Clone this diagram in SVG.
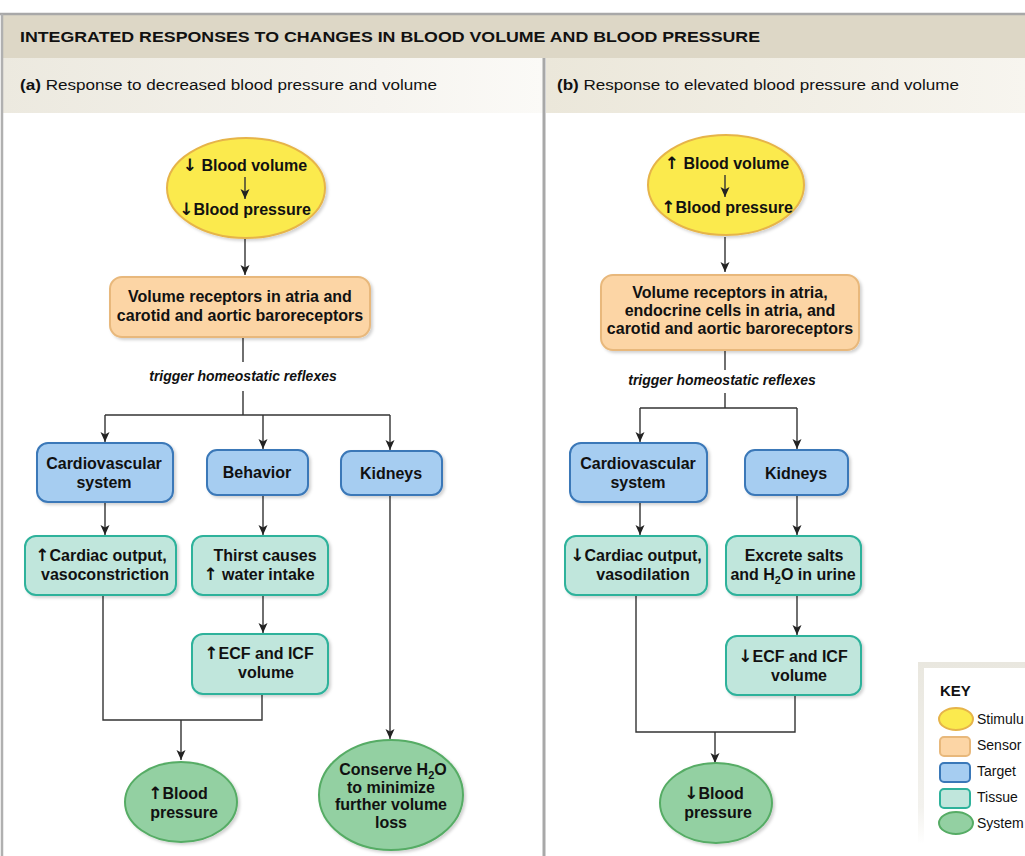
<svg xmlns="http://www.w3.org/2000/svg" width="1025" height="856" viewBox="0 0 1025 856">
<defs>
<style>
text{font-family:"Liberation Sans",Arial,sans-serif;fill:#111}
.n{font-size:16px;font-weight:bold;text-anchor:middle}
.lbl{font-size:14px;font-weight:bold;font-style:italic;text-anchor:middle}
.ar{font-family:"DejaVu Sans","Liberation Sans",sans-serif;font-weight:bold;font-size:17px}
.stim{fill:#fbea4e;stroke:#e6b44a;stroke-width:2}
.sens{fill:#fcd5a5;stroke:#e8b87b;stroke-width:2}
.targ{fill:#a6cdf1;stroke:#3a78b8;stroke-width:2}
.tiss{fill:#c0e6dc;stroke:#2eb29b;stroke-width:2}
.sys{fill:#93d0a2;stroke:#56ac65;stroke-width:2}
.c{fill:none;stroke:#333;stroke-width:1.4}
.ca{fill:none;stroke:#333;stroke-width:1.4;marker-end:url(#ah)}
.k{font-size:14px}
</style>
<marker id="ah" markerUnits="userSpaceOnUse" markerWidth="10" markerHeight="10" refX="10" refY="4.5" orient="auto">
<path d="M0,0 L10,4.5 L0,9 L2.5,4.5 z" fill="#222"/>
</marker>
<filter id="sh" x="-10%" y="-10%" width="125%" height="130%">
<feDropShadow dx="2" dy="2" stdDeviation="1.5" flood-color="#000" flood-opacity="0.18"/>
</filter>
<linearGradient id="ga" x1="0" y1="0" x2="1" y2="0">
<stop offset="0" stop-color="#ece9df"/><stop offset="0.7" stop-color="#f6f4ef"/><stop offset="1" stop-color="#fbfaf7"/>
</linearGradient>
<linearGradient id="gb" x1="0" y1="0" x2="1" y2="0">
<stop offset="0" stop-color="#ebe7da"/><stop offset="1" stop-color="#f7f5ef"/>
</linearGradient>
<linearGradient id="gk" x1="0" y1="0" x2="0" y2="1">
<stop offset="0" stop-color="#e9e7df"/><stop offset="0.8" stop-color="#f3f2ee"/><stop offset="1" stop-color="#ffffff"/>
</linearGradient>
</defs>

<rect x="0" y="0" width="1025" height="856" fill="#fff"/>
<g id="frame">
<rect x="3" y="15" width="1022" height="43" fill="#ddd7c6"/>
<rect x="3" y="58" width="540" height="55" fill="url(#ga)"/>
<rect x="546" y="58" width="479" height="55" fill="url(#gb)"/>
<line x1="0" y1="14" x2="1025" y2="14" stroke="#a8a8a8" stroke-width="2.5"/>
<line x1="2" y1="14" x2="2" y2="856" stroke="#b0b0b0" stroke-width="2.5"/>
<line x1="544" y1="58" x2="544" y2="856" stroke="#a8a8a8" stroke-width="3"/>
<text x="20" y="42" font-size="15.5" font-weight="bold" textLength="740" lengthAdjust="spacingAndGlyphs">INTEGRATED RESPONSES TO CHANGES IN BLOOD VOLUME AND BLOOD PRESSURE</text>
<text x="20" y="90" font-size="15.5" textLength="417" lengthAdjust="spacingAndGlyphs"><tspan font-weight="bold">(a)</tspan> Response to decreased blood pressure and volume</text>
<text x="557" y="90" font-size="15.5" textLength="402" lengthAdjust="spacingAndGlyphs"><tspan font-weight="bold">(b)</tspan> Response to elevated blood pressure and volume</text>
</g>

<g id="connectors">
<line class="ca" x1="245" y1="239" x2="245" y2="275"/>
<line class="c" x1="243" y1="337" x2="243" y2="362"/>
<polyline class="c" points="243,391 243,415"/>
<line class="c" x1="105" y1="415" x2="390" y2="415"/>
<line class="ca" x1="105" y1="415" x2="105" y2="442"/>
<line class="ca" x1="263" y1="415" x2="263" y2="449"/>
<line class="ca" x1="390" y1="415" x2="390" y2="450"/>
<line class="ca" x1="105" y1="502" x2="105" y2="535"/>
<line class="ca" x1="263" y1="495" x2="263" y2="535"/>
<line class="ca" x1="263" y1="595" x2="263" y2="633"/>
<polyline class="c" points="103,595 103,720 262,720 262,694"/>
<line class="ca" x1="181" y1="720" x2="181" y2="760"/>
<line class="ca" x1="390" y1="495" x2="390" y2="739"/>

<line class="ca" x1="725" y1="237" x2="725" y2="272"/>
<line class="c" x1="725" y1="350" x2="725" y2="370"/>
<line class="c" x1="725" y1="393" x2="725" y2="408"/>
<line class="c" x1="640" y1="408" x2="797" y2="408"/>
<line class="ca" x1="640" y1="408" x2="640" y2="442"/>
<line class="ca" x1="797" y1="408" x2="797" y2="449"/>
<line class="ca" x1="640" y1="502" x2="640" y2="535"/>
<line class="ca" x1="797" y1="495" x2="797" y2="535"/>
<line class="ca" x1="797" y1="595" x2="797" y2="635"/>
<polyline class="c" points="636,595 636,732 795,732 795,695"/>
<line class="ca" x1="715" y1="732" x2="715" y2="763"/>
<text class="lbl" x="243" y="381">trigger homeostatic reflexes</text>
<text class="lbl" x="722" y="385">trigger homeostatic reflexes</text>
</g>

<g id="a-stimulus">
<ellipse class="stim" cx="246" cy="188" rx="79" ry="50" filter="url(#sh)"/>
<line class="ca" x1="245" y1="177" x2="245" y2="199"/>
<text class="n" x="245" y="171"><tspan class="ar">↓</tspan> Blood volume</text>
<text class="n" x="245" y="215"><tspan class="ar">↓</tspan>Blood pressure</text>
</g>

<g id="a-sensor">
<rect class="sens" x="110" y="277" width="260" height="60" rx="12" filter="url(#sh)"/>
<text class="n" x="240" y="302">Volume receptors in atria and</text>
<text class="n" x="240" y="321">carotid and aortic baroreceptors</text>
</g>

<g id="a-cardio">
<rect class="targ" x="37" y="443" width="136" height="59" rx="11" filter="url(#sh)"/>
<text class="n" x="104" y="469">Cardiovascular</text>
<text class="n" x="104" y="488">system</text>
</g>
<g id="a-behavior">
<rect class="targ" x="207" y="450" width="101" height="45" rx="10" filter="url(#sh)"/>
<text class="n" x="257" y="478">Behavior</text>
</g>
<g id="a-kidneys">
<rect class="targ" x="341" y="451" width="101" height="44" rx="10" filter="url(#sh)"/>
<text class="n" x="391" y="479">Kidneys</text>
</g>

<g id="a-cardiac-output">
<rect class="tiss" x="25" y="536" width="151" height="59" rx="11" filter="url(#sh)"/>
<text class="n" x="101" y="561"><tspan class="ar">↑</tspan>Cardiac output,</text>
<text class="n" x="105" y="580">vasoconstriction</text>
</g>
<g id="a-thirst">
<rect class="tiss" x="192" y="536" width="136" height="59" rx="11" filter="url(#sh)"/>
<text class="n" x="265" y="561">Thirst causes</text>
<text class="n" x="259" y="580"><tspan class="ar">↑</tspan> water intake</text>
</g>
<g id="a-ecf">
<rect class="tiss" x="192" y="634" width="136" height="60" rx="11" filter="url(#sh)"/>
<text class="n" x="259" y="659"><tspan class="ar">↑</tspan>ECF and ICF</text>
<text class="n" x="266" y="678">volume</text>
</g>

<g id="a-bp">
<ellipse class="sys" cx="181" cy="802" rx="56" ry="40" filter="url(#sh)"/>
<text class="n" x="178" y="799"><tspan class="ar">↑</tspan>Blood</text>
<text class="n" x="184" y="818">pressure</text>
</g>
<g id="a-conserve">
<ellipse class="sys" cx="391" cy="795" rx="72" ry="55" filter="url(#sh)"/>
<text class="n" x="393" y="775">Conserve H<tspan font-size="11" dy="4">2</tspan><tspan dy="-4">O</tspan></text>
<text class="n" x="391" y="793">to minimize</text>
<text class="n" x="391" y="810">further volume</text>
<text class="n" x="391" y="828">loss</text>
</g>

<g id="b-stimulus">
<ellipse class="stim" cx="726" cy="185" rx="78" ry="50" filter="url(#sh)"/>
<line class="ca" x1="725" y1="175" x2="725" y2="197"/>
<text class="n" x="727" y="169"><tspan class="ar">↑</tspan> Blood volume</text>
<text class="n" x="727" y="213"><tspan class="ar">↑</tspan>Blood pressure</text>
</g>

<g id="b-sensor">
<rect class="sens" x="601" y="275" width="258" height="75" rx="12" filter="url(#sh)"/>
<text class="n" x="730" y="298">Volume receptors in atria,</text>
<text class="n" x="730" y="316">endocrine cells in atria, and</text>
<text class="n" x="730" y="334">carotid and aortic baroreceptors</text>
</g>

<g id="b-cardio">
<rect class="targ" x="570" y="443" width="137" height="59" rx="11" filter="url(#sh)"/>
<text class="n" x="638" y="469">Cardiovascular</text>
<text class="n" x="638" y="488">system</text>
</g>
<g id="b-kidneys">
<rect class="targ" x="745" y="450" width="103" height="45" rx="10" filter="url(#sh)"/>
<text class="n" x="796" y="479">Kidneys</text>
</g>

<g id="b-cardiac-output">
<rect class="tiss" x="565" y="536" width="142" height="59" rx="11" filter="url(#sh)"/>
<text class="n" x="636" y="561"><tspan class="ar">↓</tspan>Cardiac output,</text>
<text class="n" x="643" y="580">vasodilation</text>
</g>
<g id="b-excrete">
<rect class="tiss" x="726" y="536" width="135" height="59" rx="11" filter="url(#sh)"/>
<text class="n" x="794" y="561">Excrete salts</text>
<text class="n" x="793" y="580">and H<tspan font-size="11" dy="4">2</tspan><tspan dy="-4">O in urine</tspan></text>
</g>
<g id="b-ecf">
<rect class="tiss" x="726" y="636" width="135" height="59" rx="11" filter="url(#sh)"/>
<text class="n" x="793" y="662"><tspan class="ar">↓</tspan>ECF and ICF</text>
<text class="n" x="799" y="681">volume</text>
</g>

<g id="b-bp">
<ellipse class="sys" cx="716" cy="803" rx="56" ry="40" filter="url(#sh)"/>
<text class="n" x="714" y="799"><tspan class="ar">↓</tspan>Blood</text>
<text class="n" x="718" y="818">pressure</text>
</g>

<g id="key">
<rect x="918" y="662" width="110" height="182" fill="url(#gk)"/>
<rect x="924" y="668" width="104" height="176" fill="#fff"/>
<text x="940" y="696" font-size="15" font-weight="bold">KEY</text>
<ellipse class="stim" cx="956" cy="719" rx="17" ry="11"/>
<rect class="sens" x="940" y="737" width="30" height="19" rx="4"/>
<rect class="targ" x="940" y="763" width="30" height="19" rx="4"/>
<rect class="tiss" x="940" y="789" width="30" height="19" rx="4"/>
<ellipse class="sys" cx="956" cy="823" rx="17" ry="11"/>
<text class="k" x="977" y="724">Stimulu</text>
<text class="k" x="977" y="750">Sensor</text>
<text class="k" x="977" y="776">Target</text>
<text class="k" x="977" y="802">Tissue</text>
<text class="k" x="977" y="828">System</text>
</g>
</svg>
